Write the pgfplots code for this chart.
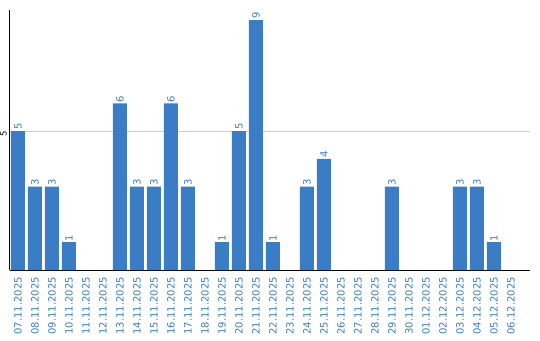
\documentclass[border=0pt]{standalone}
\usepackage{pgfplots}
\pgfplotsset{compat=1.18}
\usepackage{fontspec}
\setmainfont{DejaVu Sans}
\definecolor{barblue}{HTML}{3A7DC4}
\definecolor{gridgray}{HTML}{CCCCCC}
\begin{document}
\begin{tikzpicture}[x=1pt,y=1pt]
\path[use as bounding box] (0,0) rectangle (540,340);
\begin{axis}[
  at={(10pt,70pt)}, anchor=south west,
  scale only axis, width=520pt, height=260pt,
  xmin=-0.47, xmax=30.12, ymin=0, ymax=9.36,
  axis x line*=bottom, axis y line*=left,
  axis line style={line width=1pt, black},
  /pgf/number format/assume math mode=true,
  xtick={0,...,29},
  xticklabels={07.11.2025,08.11.2025,09.11.2025,10.11.2025,11.11.2025,12.11.2025,13.11.2025,14.11.2025,15.11.2025,16.11.2025,17.11.2025,18.11.2025,19.11.2025,20.11.2025,21.11.2025,22.11.2025,23.11.2025,24.11.2025,25.11.2025,26.11.2025,27.11.2025,28.11.2025,29.11.2025,30.11.2025,01.12.2025,02.12.2025,03.12.2025,04.12.2025,05.12.2025,06.12.2025},
  xticklabel style={rotate=90, anchor=east, inner sep=0pt, text=barblue, font=\fontsize{10}{10}\selectfont},
  xticklabel shift=7pt,
  ytick={5},
  yticklabel style={yshift=-3pt, rotate=90, anchor=south, inner sep=0pt, text=black, font=\fontsize{8.5}{8.5}\selectfont},
  yticklabel shift=3pt,
  ymajorgrids, grid style={gridgray, line width=1pt},
  major tick length=0pt,
  clip=false,
]
\addplot[ybar, fill=barblue, draw=none, bar width=14pt,
  nodes near coords,
  every node near coord/.append style={rotate=90, anchor=west, inner sep=1pt, text=barblue, font=\fontsize{10}{10}\selectfont},
] coordinates {(0,5) (1,3) (2,3) (3,1) (6,6) (7,3) (8,3) (9,6) (10,3) (12,1) (13,5) (14,9) (15,1) (17,3) (18,4) (22,3) (26,3) (27,3) (28,1)};
\end{axis}
\end{tikzpicture}
\end{document}
